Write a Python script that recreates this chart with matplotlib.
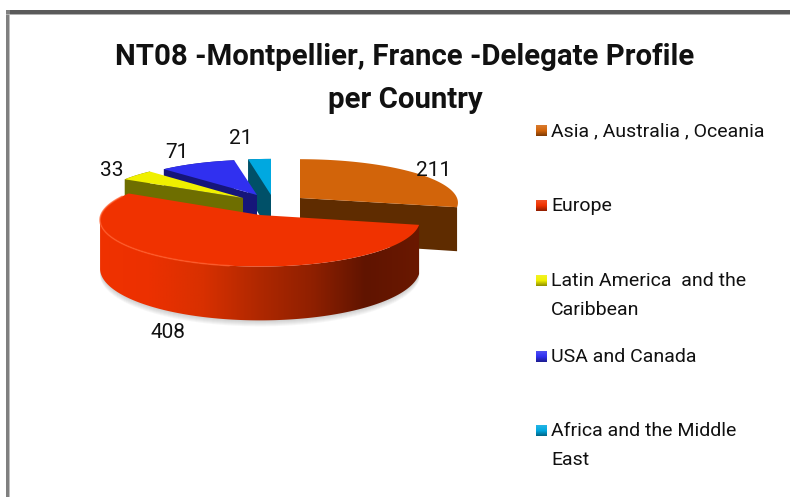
import numpy as np
import matplotlib
matplotlib.use("Agg")
import matplotlib.pyplot as plt
from matplotlib.patches import Polygon, Rectangle
from matplotlib.colors import LinearSegmentedColormap

title_lines = ["NT08 -Montpellier, France -Delegate Profile", "per Country"]
categories = [["Asia , Australia , Oceania"], ["Europe"], ["Latin America  and the", "Caribbean"],
              ["USA and Canada"], ["Africa and the Middle", "East"]]
values = [211, 408, 33, 71, 21]

top_colors = ["#d2640a", "#f03200", "#f0f000", "#3030f0", "#00a8e0"]
wall_colors = ["#5f2c00", "#8c2000", "#6e6e00", "#16167a", "#005068"]

# slice layout: apex x, apex y, rx, ry, depth
layout = [(300, 198, 157, 43, 43), (260, 215, 159, 46, 48), (243, 198, 143, 40, 40),
          (257, 195, 143, 39, 40), (271, 195, 143, 40, 40)]
label_pos = [(434, 170), (168, 333), (112, 170), (177, 153), (241, 139)]
legend_y = [131, 206, 281, 357, 431]
legend_line_y = [[131], [206], [281, 310], [357], [431, 460]]
P = 0.108
FONT = "Roboto"

fig = plt.figure(figsize=(7.9, 4.97), dpi=100)
ax = fig.add_axes([0, 0, 1, 1])
ax.axis("off")


def proj(theta, r, s):
    ax0, ay0, rx, ry, d = s
    u, v = r * np.sin(theta), r * np.cos(theta)
    w = 1 + P * v
    return ax0 + rx * u / w, ay0 - ry * v / w, d / w


angles = np.radians(np.concatenate([[0], np.cumsum(values) / np.sum(values) * 360]))


def arc(a, b, s):
    t = np.linspace(a, b, 200)
    return proj(t, 1.0, s)


def top_poly(i):
    s = layout[i]
    x, y, _ = arc(angles[i], angles[i + 1], s)
    return np.column_stack([np.r_[s[0], x], np.r_[s[1], y]])


def wall_poly(a, b, s):
    x, y, d = arc(a, b, s)
    return np.column_stack([np.r_[x, x[::-1]], np.r_[y, (y + d)[::-1]]])


def cut_poly(a, s, dep):
    x, y, d = proj(np.array([a]), 1.0, s)
    return np.array([[s[0], s[1]], [x[0], y[0]], [x[0], y[0] + d[0]], [s[0], s[1] + dep]])


# back slices, then Asia, then Europe in front
for i in [4, 3, 2]:
    s = layout[i]
    ax.add_patch(Polygon(wall_poly(angles[i], angles[i + 1], s), fc=wall_colors[i], ec="none", zorder=2 + (4 - i)))
    ax.add_patch(Polygon(cut_poly(angles[i], s, s[4]), fc=wall_colors[i], ec="none", zorder=2 + (4 - i)))
    ax.add_patch(Polygon(top_poly(i), fc=top_colors[i], ec="none", zorder=2.5 + (4 - i)))

s = layout[0]
ax.add_patch(Polygon(cut_poly(angles[1], s, s[4]), fc=wall_colors[0], ec="none", zorder=6))
ax.add_patch(Polygon(top_poly(0), fc=top_colors[0], ec="none", zorder=6.5))

# Europe: soft shadow, gradient wall, top
s = layout[1]
w = wall_poly(angles[1], np.radians(263), s)
for k in range(1, 7):
    ax.add_patch(Polygon(w + [0, k], fc="#606060", ec="none", alpha=0.05, zorder=7))
cmap = LinearSegmentedColormap.from_list("wall", ["#f03200", "#ec3000", "#d83000", "#b02800",
                                                  "#902000", "#601400", "#6a1800"])
im = ax.imshow(np.linspace(0, 1, 256)[None, :], extent=[95, 420, 330, 190], cmap=cmap,
               aspect="auto", zorder=8)
clip = Polygon(w, transform=ax.transData, fc="none", ec="none")
ax.add_patch(clip)
im.set_clip_path(clip)
ax.add_patch(Polygon(top_poly(1), fc=top_colors[1], ec="none", zorder=9))
xr, yr, _ = arc(np.radians(190), np.radians(295), s)
ax.plot(xr, yr, color="#ff5a28", lw=1.2, alpha=0.7, zorder=10, solid_capstyle="round")

# value labels
for v, (x, y) in zip(values, label_pos):
    ax.text(x, y, str(v), ha="center", va="center", fontsize=15, family=FONT, color="#111111", zorder=12)

# title
for line, y in zip(title_lines, [57, 100]):
    ax.text(405, y, line, ha="center", va="center", fontsize=21.2, family=FONT, weight="bold",
            color="#111111")

# legend
for i, lines in enumerate(categories):
    y = legend_y[i]
    c = matplotlib.colors.to_rgb(top_colors[i])
    dark = tuple(0.6 * q for q in c)
    light = tuple(min(1, 0.85 * q + 0.15) for q in c)
    cm = LinearSegmentedColormap.from_list("m", [light, c, dark])
    ax.imshow(np.linspace(0, 1, 32)[:, None], extent=[536, 547, y + 5.5, y - 5.5], cmap=cm, aspect="auto", zorder=3)
    for line, ly in zip(lines, legend_line_y[i]):
        ax.text(551, ly, line, ha="left", va="center", fontsize=14, family=FONT, color="#111111")

# frame
ax.add_patch(Rectangle((6, 10), 784, 5, fc="#5a5a5a", ec="none", zorder=1))
ax.add_patch(Rectangle((6, 13.5), 784, 1.5, fc="#b0b0b0", ec="none", zorder=1.1))
ax.add_patch(Rectangle((6, 10), 4, 487, fc="#808080", ec="none", zorder=1))
ax.add_patch(Rectangle((9, 14), 1.2, 483, fc="#c0c0c0", ec="none", zorder=1.1))

ax.set_xlim(0, 790)
ax.set_ylim(497, 0)
fig.savefig("out.png", dpi=100)
